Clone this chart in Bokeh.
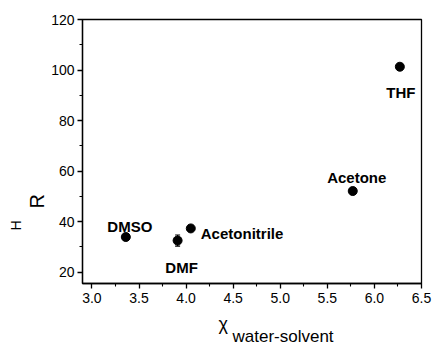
from bokeh.plotting import figure
from bokeh.models import (ColumnDataSource, Label, FixedTicker, NumeralTickFormatter,
                          Whisker, Range1d, TeeHead, Title)
from bokeh.embed import file_html
from bokeh.resources import INLINE

# ---- data ----
solvents = ["DMSO", "DMF", "Acetonitrile", "Acetone", "THF"]
chi_ws = [3.36, 3.91, 4.05, 5.77, 6.27]
r_h = [33.9, 32.5, 37.3, 52.1, 101.3]
r_h_err = [0.0, 2.2, 0.0, 0.0, 0.0]
x_ticks = [3.0, 3.5, 4.0, 4.5, 5.0, 5.5, 6.0, 6.5]
y_ticks = [20, 40, 60, 80, 100, 120]

# label placement styles (pixel offsets from the point, alignment)
label_dx = [4, 4, 10, 4, 1]
label_dy = [11, -27, -5, 14, -26]
label_align = ["center", "center", "left", "center", "center"]

FONT = "Liberation Sans"

p = figure(width=433, height=344, x_range=Range1d(2.9, 6.5), y_range=Range1d(15.5, 120),
           output_backend="svg", toolbar_location=None,
           min_border_left=82, min_border_right=12, min_border_top=19, min_border_bottom=61)

p.background_fill_color = "white"
p.border_fill_color = "white"
p.grid.visible = False
p.outline_line_color = "black"
p.outline_line_width = 1.3
p.outline_line_alpha = 1.0

x_minor = [(a + b) / 2 for a, b in zip(x_ticks[:-1], x_ticks[1:])]
y_minor = [(a + b) / 2 for a, b in zip(y_ticks[:-1], y_ticks[1:])]
p.xaxis.ticker = FixedTicker(ticks=x_ticks, minor_ticks=x_minor)
p.yaxis.ticker = FixedTicker(ticks=y_ticks, minor_ticks=y_minor)
p.xaxis.formatter = NumeralTickFormatter(format="0.0")

for ax in (p.xaxis[0], p.yaxis[0]):
    ax.axis_line_color = "black"
    ax.axis_line_width = 1.3
    ax.major_tick_line_color = "black"
    ax.major_tick_line_width = 1.3
    ax.minor_tick_line_color = "black"
    ax.minor_tick_line_width = 1.1
    ax.major_tick_out = 5
    ax.major_tick_in = 0
    ax.minor_tick_out = 3
    ax.minor_tick_in = 0
    ax.major_label_text_font = FONT
    ax.major_label_text_font_size = "14px"
    ax.major_label_text_color = "black"
    ax.axis_label = None
p.xaxis.major_label_standoff = 4
p.yaxis.major_label_standoff = 3

src = ColumnDataSource(dict(x=chi_ws, y=r_h, name=solvents))

err_src = ColumnDataSource(dict(
    x=[x for x, e in zip(chi_ws, r_h_err) if e > 0],
    lo=[v - e for v, e in zip(r_h, r_h_err) if e > 0],
    hi=[v + e for v, e in zip(r_h, r_h_err) if e > 0]))
w = Whisker(source=err_src, base="x", lower="lo", upper="hi", dimension="height",
            line_color="black", line_width=1.2,
            upper_head=TeeHead(size=5, line_color="black", line_width=1.2),
            lower_head=TeeHead(size=5, line_color="black", line_width=1.2))
p.add_layout(w)

p.scatter("x", "y", source=src, size=9, marker="circle", fill_color="black", line_color="black")

for name, x, y, dx, dy, al in zip(solvents, chi_ws, r_h, label_dx, label_dy, label_align):
    p.add_layout(Label(x=x, y=y, text=name, x_offset=dx, y_offset=dy, text_align=al,
                       text_baseline="alphabetic", text_font=FONT, text_font_style="bold",
                       text_font_size="15px", text_color="black"))


def side_title(text, size, offset, standoff, valign="bottom"):
    return Title(text=text, align="left", offset=offset, standoff=standoff,
                 vertical_align=valign, text_font=FONT, text_font_size=size,
                 text_font_style="normal", text_color="black")


# y-axis title: small H then R, rotated
p.add_layout(side_title("R", "20px", 75, 1), "left")
p.add_layout(side_title("H", "14px", 53, 0), "left")

# x-axis title: chi with subscript
p.add_layout(side_title("\u03c7", "18px", 136, 12), "below")
p.add_layout(side_title("water-solvent", "17px", 150, -26, valign="top"), "below")

open("out.html", "w").write(file_html(p, INLINE))
